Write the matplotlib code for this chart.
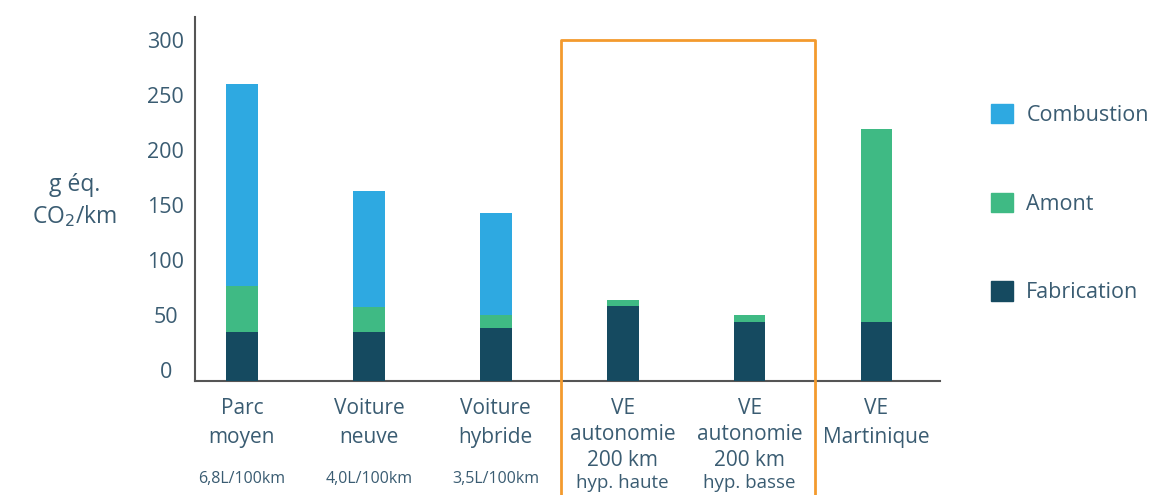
import matplotlib
matplotlib.use("Agg")
import matplotlib.pyplot as plt
import matplotlib.transforms as mtransforms
from matplotlib.patches import Patch
import numpy as np

categories = ["Parc\nmoyen", "Voiture\nneuve", "Voiture\nhybride",
              "VE\nautonomie\n200 km", "VE\nautonomie\n200 km", "VE\nMartinique"]
sublabels = ["6,8L/100km", "4,0L/100km", "3,5L/100km", "hyp. haute", "hyp. basse", ""]
fabrication = [45, 45, 48, 68, 54, 54]
amont = [41, 22, 12, 6, 6, 175]
combustion = [184, 106, 93, 0, 0, 0]
yticks = [0, 50, 100, 150, 200, 250, 300]

c_comb = "#2EA9E1"
c_amont = "#3FBA84"
c_fab = "#154A60"
txt = "#3A5C72"
font = "Open Sans"

fig = plt.figure(figsize=(11.61, 4.95), dpi=100)
ax = fig.add_axes([195/1161, 1-381/495, (940-195)/1161, (381-17)/495])

x = np.arange(len(categories))
w = 0.25
fab = np.array(fabrication); am = np.array(amont); co = np.array(combustion)
ax.bar(x, fab, w, color=c_fab, zorder=3)
ax.bar(x, am, w, bottom=fab, color=c_amont, zorder=3)
ax.bar(x, co, w, bottom=fab+am, color=c_comb, zorder=3)

ax.set_xlim(-0.37, 5.5)
ax.set_ylim(0, 331)

for s in ["top", "right"]:
    ax.spines[s].set_visible(False)
for s in ["left", "bottom"]:
    ax.spines[s].set_color("#555555")
    ax.spines[s].set_linewidth(1.5)

ax.set_yticks(yticks)
ax.set_yticklabels([str(t) for t in yticks], fontsize=15.5, color=txt, family=font,
                   ha="center")
ax.tick_params(axis="y", length=0, pad=21)
off = mtransforms.ScaledTranslation(0, 11/100, fig.dpi_scale_trans)
for lbl in ax.get_yticklabels():
    lbl.set_transform(lbl.get_transform() + off)

ax.set_xticks(x)
ax.set_xticklabels(categories, fontsize=15, color=txt, family=font)
for i, lbl in enumerate(ax.get_xticklabels()):
    lbl.set_linespacing(1.5 if categories[i].count("\n") == 1 else 1.33)
ax.tick_params(axis="x", length=0, pad=12)

trans = mtransforms.blended_transform_factory(ax.transData, ax.transAxes)
for i, s in enumerate(sublabels):
    if not s:
        continue
    yy = -0.268 if i < 3 else -0.28
    fs = 11.5 if i < 3 else 13.5
    ax.text(x[i], yy, s, transform=trans, ha="center", va="center",
            fontsize=fs, color=txt, family=font)

# y label
fig.text(75/1161, 1-201/495, "g éq.\nCO$_2$/km", ha="center", va="center",
         fontsize=16.5, color=txt, family=font, linespacing=1.3)

# orange highlight box
btrans = mtransforms.blended_transform_factory(ax.transData, fig.transFigure)
ytop = 1 - 40/495
ax.plot([2.515, 2.515, 4.515, 4.515], [-0.05, ytop, ytop, -0.05], color="#F39A2E",
        lw=2, transform=btrans, clip_on=False, zorder=5)

handles = [Patch(color=c_comb, label="Combustion"),
           Patch(color=c_amont, label="Amont"),
           Patch(color=c_fab, label="Fabrication")]
leg = fig.legend(handles=handles, loc="upper left",
                 bbox_to_anchor=(991/1161, 1-104/495), frameon=False,
                 prop={"family": font, "size": 15.5}, labelspacing=3.1,
                 handlelength=1.02, handleheight=1.0, handletextpad=0.62,
                 borderpad=0, borderaxespad=0)
for t in leg.get_texts():
    t.set_color(txt)

fig.savefig("out.png", dpi=100)
